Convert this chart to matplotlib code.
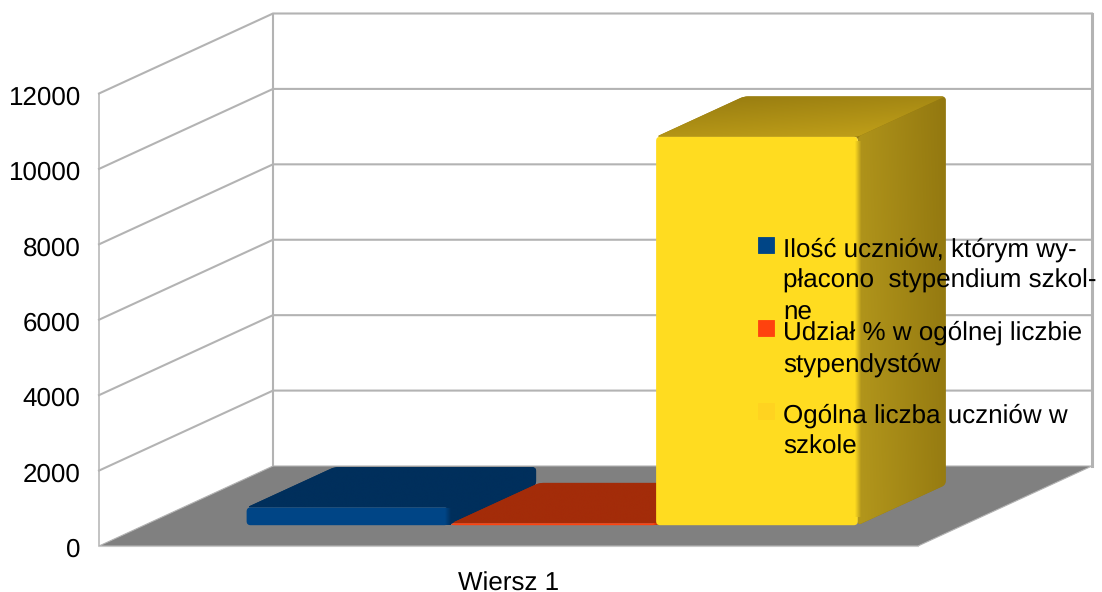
import numpy as np
import matplotlib
matplotlib.use("Agg")
import matplotlib.pyplot as plt
from matplotlib.path import Path
from matplotlib.patches import PathPatch, Polygon
from matplotlib.colors import LinearSegmentedColormap
from matplotlib.transforms import ScaledTranslation

plt.rcParams['font.family'] = ['Liberation Sans', 'DejaVu Sans']
plt.rcParams['text.hinting'] = 'none'
plt.rcParams['text.hinting_factor'] = 1

# ---- data ----
category = "Wiersz 1"
series_names = ["Ilość uczniów, którym wypłacono stypendium szkolne",
                "Udział % w ogólnej liczbie stypendystów",
                "Ogólna liczba uczniów w szkole"]
series_values = [470, 50, 10300]
y_ticks = [0, 2000, 4000, 6000, 8000, 10000, 12000]
legend_lines = [["Ilość uczniów, którym wy-", "płacono  stypendium szkol-", "ne"],
                ["Udział % w ogólnej liczbie", "stypendystów"],
                ["Ogólna liczba uczniów w", "szkole"]]

front_cols = ["#004586", "#ff420e", "#ffdc20"]
marker_cols = ["#004586", "#ff420e", "#ffd320"]
top_cols = [("#002f5c", "#002f5c"), ("#a32c09", "#a32c09"), ("#957a10", "#c4a31a")]
side_cols = [("#002f5c", "#002f5c"), ("#a32c09", "#a32c09"), ("#b3971c", "#937810")]
bar_widths = [0.985, 1.0, 0.985]

W, H = 1102, 592
fig = plt.figure(figsize=(W / 100, H / 100), dpi=100)
ax = fig.add_axes([0, 0, 1, 1])

# scale: one slot = one bar width; y in data values
X0, Y0 = 99.0, 546.0
PX_SLOT = 819.0 / 4
PX_VAL = (546.0 - 93.5) / 12000
XLIM = (-X0 / PX_SLOT, (W - X0) / PX_SLOT)
YLIM = (-(H - Y0) / PX_VAL, Y0 / PX_VAL)
ax.set_xlim(*XLIM)
ax.set_ylim(*YLIM)
ax.set_facecolor("white")
DX = 174.0 / PX_SLOT
DY = 80.0 / PX_VAL


def proj(x, y, d=0.0):
    return (x + d * DX, y + d * DY)


def rounded(pts, r=4.0):
    """Closed path through pts with corners rounded by r pixels."""
    p = np.array(pts, float) * [PX_SLOT, PX_VAL]
    n = len(p)
    v, c = [], []
    for i in range(n):
        a, b, e = p[i - 1], p[i], p[(i + 1) % n]
        la, le = np.linalg.norm(a - b), np.linalg.norm(e - b)
        ra, re = min(r, la / 2.2), min(r, le / 2.2)
        s = b + (a - b) / max(la, 1e-9) * ra
        t = b + (e - b) / max(le, 1e-9) * re
        v += [s, b, t]
        c += [Path.MOVETO if i == 0 else Path.LINETO, Path.CURVE3, Path.CURVE3]
    v.append(v[0])
    c.append(Path.CLOSEPOLY)
    return Path(np.array(v) / [PX_SLOT, PX_VAL], c)


def gradient(path, c0, c1, wu, wv, zorder):
    """Fill path with a gradient from c0 to c1 along weights wu (x) and wv (y)."""
    cmap = LinearSegmentedColormap.from_list("g", [c0, c1])
    u, v = np.meshgrid(np.linspace(0, 1, 128), np.linspace(0, 1, 128))
    g = wu * u + wv * v
    g = (g - g.min()) / (g.max() - g.min())
    b = path.get_extents()
    im = ax.imshow(g, cmap=cmap, extent=[b.x0, b.x1, b.y0, b.y1], origin="lower",
                   aspect="auto", zorder=zorder, interpolation="bilinear")
    im.set_clip_path(PathPatch(path, transform=ax.transData))


GRID = "#b3b3b3"
# walls
for v in y_ticks[1:]:
    ax.plot(*zip(proj(0, v), proj(0, v, 1), proj(4, v, 1)), color=GRID, lw=1.5, zorder=1,
            solid_joinstyle="miter")
ax.plot(*zip(proj(0, 0, 1), proj(0, 12000, 1)), color=GRID, lw=1.5, zorder=1)
ax.plot(*zip(proj(4, 0, 1), proj(4, 12000, 1)), color=GRID, lw=2.2, zorder=1)
# floor
ax.add_patch(Polygon([proj(0, 0), proj(4, 0), proj(4, 0, 1), proj(0, 0, 1)], closed=True,
                     facecolor="#808080", edgecolor="#b3b3b3", lw=0.8, zorder=2))

# bars
D0, D1 = 0.26, 0.765
BLUR = 3.0 / PX_SLOT
for i, val in enumerate(series_values):
    xl, xr = 0.5 + i, 0.5 + i + bar_widths[i]
    z = 3 + i
    top = [proj(xl, val, D0), proj(xl, val, D1), proj(xr, val, D1), proj(xr, val, D0)]
    side = [proj(xr, 0, D0), proj(xr, val, D0), proj(xr, val, D1), proj(xr, 0, D1)]
    front = [proj(xl, 0, D0), proj(xl, val, D0), proj(xr, val, D0), proj(xr, 0, D0)]
    backing = [proj(xl, val, D0), proj(xl, val, D1), proj(xr, val, D1), proj(xr, 0, D1),
               proj(xr, 0, D0), proj(xr, val, D0)]
    ax.add_patch(PathPatch(rounded(backing, 4), facecolor=top_cols[i][0], edgecolor="none",
                           zorder=z - 0.1))
    gradient(rounded(top, 4), top_cols[i][1], top_cols[i][0], -0.35, 0.65, z)
    gradient(rounded(side, 4), side_cols[i][0], side_cols[i][1], 1.0, 0.15, z + 0.1)
    ax.add_patch(PathPatch(rounded(front, 4), facecolor=front_cols[i], edgecolor="none",
                           zorder=z + 0.2))
    # soft transition between the front and the side face
    fx, fy = proj(xr, 0, D0)
    tx, ty = proj(xr, val, D0)
    edge = Path([(fx - BLUR, fy + 0.02 * val), (tx - BLUR, ty - 0.01 * val),
                 (tx + BLUR, ty - 0.01 * val), (fx + BLUR, fy + 0.02 * val), (0, 0)],
                [Path.MOVETO, Path.LINETO, Path.LINETO, Path.LINETO, Path.CLOSEPOLY])
    gradient(edge, front_cols[i], side_cols[i][0], 1.0, 0.0, z + 0.3)
ax.set_xlim(*XLIM)
ax.set_ylim(*YLIM)

# axes
for s in ("top", "right"):
    ax.spines[s].set_visible(False)
ax.spines["left"].set_position(("data", 0))
ax.spines["left"].set_bounds(0, 12000)
ax.spines["left"].set_color(GRID)
ax.spines["left"].set_linewidth(1.1)
ax.spines["bottom"].set_position(("data", 0))
ax.spines["bottom"].set_bounds(0, 4)
ax.spines["bottom"].set_color("#c8c8c8")
ax.spines["bottom"].set_linewidth(0.8)
ax.set_yticks(y_ticks)
ax.set_xticks([2])
ax.set_xticklabels([category])
ax.tick_params(axis="y", length=0, pad=13.2, labelsize=19)
ax.tick_params(axis="x", length=0, pad=18.5, labelsize=19)
for lab in ax.get_yticklabels():
    lab.set_transform(lab.get_transform() + ScaledTranslation(0, -1.5 / 100, fig.dpi_scale_trans))

# legend (figure pixel positions)
tr = fig.transFigure
marker_top = [237, 320, 403]
baselines = [[257, 288, 320], [340, 372], [423, 454]]
LEG_X, MARK_X, MARK = 783, 758, 16
for i, lines in enumerate(legend_lines):
    ax.add_patch(plt.Rectangle((MARK_X / W, 1 - (marker_top[i] + MARK) / H), MARK / W, MARK / H,
                               transform=tr, facecolor=marker_cols[i],
                               edgecolor=marker_cols[i], lw=0.6, zorder=10))
    for t, y in zip(lines, baselines[i]):
        ax.text(LEG_X / W, 1 - y / H, t, transform=tr, fontsize=19, color="black",
                ha="left", va="baseline", zorder=11)

fig.savefig("out.png", dpi=100)
